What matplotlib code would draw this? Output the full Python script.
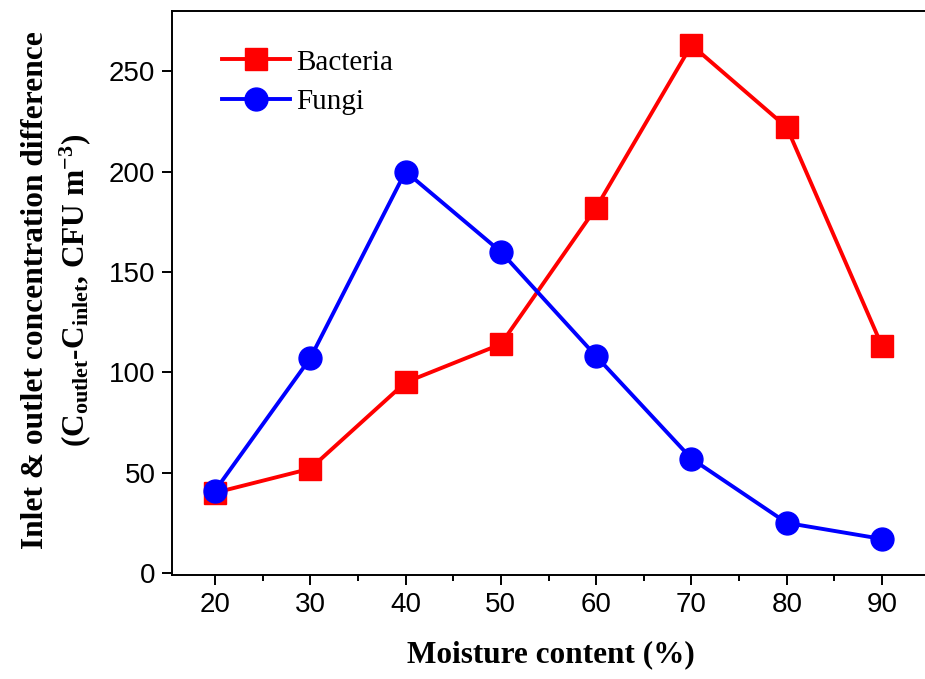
import numpy as np
import matplotlib
matplotlib.use('Agg')
import matplotlib.pyplot as plt
from matplotlib.ticker import MultipleLocator

plt.rcParams['font.family'] = 'Liberation Sans'
plt.rcParams['mathtext.fontset'] = 'custom'
plt.rcParams['mathtext.rm'] = 'Liberation Serif:bold'
plt.rcParams['mathtext.it'] = 'Liberation Serif:bold'
plt.rcParams['mathtext.bf'] = 'Liberation Serif:bold'

moisture = [20, 30, 40, 50, 60, 70, 80, 90]
bacteria = [40, 52, 95, 114, 182, 263, 222, 113]
fungi = [41, 107, 200, 160, 108, 57, 25, 17]

fig = plt.figure(figsize=(9.25, 6.79), dpi=100)
ax = fig.add_axes([0.186, 0.153, 0.815, 0.831])

ax.plot(moisture, bacteria, color='red', lw=2.8, marker='s', ms=15.5, label='Bacteria')
ax.plot(moisture, fungi, color='blue', lw=2.8, marker='o', ms=16.5, label='Fungi')

ax.set_xlim(15.5, 94.6)
ax.set_ylim(-1, 280)
ax.set_xticks(moisture)
ax.xaxis.set_minor_locator(MultipleLocator(5))
ax.set_yticks([0, 50, 100, 150, 200, 250])

for s in ax.spines.values():
    s.set_linewidth(1.4)
ax.spines['right'].set_visible(False)
ax.tick_params(which='major', direction='out', length=7, width=1.4, labelsize=20,
               top=False, right=False, pad=5)
ax.tick_params(which='minor', direction='out', length=4, width=1.4,
               top=False, right=False)

ax.set_xlabel('Moisture content (%)', family='Liberation Serif', weight='bold',
              fontsize=22.5)
ax.xaxis.set_label_coords(0.503, -0.115)
ax.set_ylabel('Inlet & outlet concentration difference\n'
              r'($\mathrm{C_{outlet}}$-$\mathrm{C_{inlet}}$, CFU m$^{\mathrm{-3}}$)',
              family='Liberation Serif', weight='bold', fontsize=22.6,
              multialignment='center', linespacing=1.25)
ax.yaxis.set_label_coords(-0.105, 0.505)

leg = ax.legend(loc='upper left', bbox_to_anchor=(0.066, 0.932), frameon=False,
                borderaxespad=0, borderpad=0,
                prop={'family': 'Liberation Serif', 'size': 21},
                handlelength=2.35, handletextpad=0.2, labelspacing=0.45)

fig.savefig('out.png', dpi=100)
